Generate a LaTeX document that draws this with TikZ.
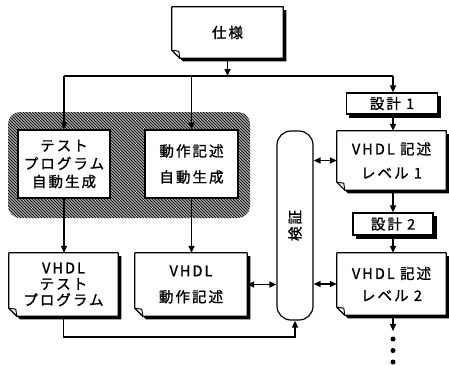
\documentclass[tikz,border=0pt]{standalone}
\usepackage{fontspec}
\setmainfont{Noto Sans CJK JP}[LetterSpace=14, FakeBold=1.2]
\usetikzlibrary{arrows.meta,patterns,backgrounds}

\tikzset{
  every node/.style={inner sep=0pt, font=\fontsize{14.5}{18}\selectfont, align=center},
  tip/.tip={Triangle[length=7pt,width=6pt]},
  wire/.style={line width=1.5pt},
  conn/.style={line width=1.5pt, -tip},
  dconn/.style={line width=1.5pt, tip-tip},
  plainbox/.style={draw, fill=white, line width=1.2pt},
  docbox/.style={},
  ls16/.style={font=\fontsize{14.5}{16}\selectfont},
  ls18/.style={font=\fontsize{14.5}{18}\selectfont},
  ls22/.style={font=\fontsize{14.5}{22}\selectfont},
  ls24/.style={font=\fontsize{14.5}{24}\selectfont},
  ls26/.style={font=\fontsize{14.5}{26}\selectfont},
  shadowshift/.style={transform canvas={shift={(3.2pt,-3.2pt)}}},
}

\newcommand\docbg[1]{%
  \begin{pgfonlayer}{background}
    \begin{scope}[shadowshift]
      \fill[black] (#1.north west) -- (#1.north east)
        -- (#1.south east) -- ([xshift=8pt]#1.south west) -- ([yshift=8pt]#1.south west) -- cycle;
    \end{scope}
    \filldraw[fill=white, line width=1.2pt, line join=round] (#1.north west) -- (#1.north east)
      -- (#1.south east) -- ([xshift=8pt]#1.south west) -- ([yshift=8pt]#1.south west) -- cycle;
    \draw[line width=1pt, line join=round] ([yshift=8pt]#1.south west) -- ([shift={(7pt,7pt)}]#1.south west)
      -- ([xshift=8pt]#1.south west);
  \end{pgfonlayer}}

\newcommand\boxbg[1]{%
  \begin{pgfonlayer}{background}
    \begin{scope}[shadowshift]
      \fill[black] (#1.north west) rectangle (#1.south east);
    \end{scope}
  \end{pgfonlayer}}

\begin{document}
\begin{tikzpicture}[x=1pt,y=-1pt]
\useasboundingbox (0,0) rectangle (449,365);

% hatched group
\begin{pgfonlayer}{background}
  \fill[gray!75, rounded corners=12pt] (8,112) rectangle (250,218);
  \fill[pattern=north west lines, pattern color=black, rounded corners=12pt] (8,112) rectangle (250,218);
\end{pgfonlayer}

% nodes
\node[docbox, minimum width=111pt, minimum height=51pt] (spec) at (227.5,32.5) {仕様};
\docbg{spec}

\node[plainbox, minimum width=91pt, minimum height=21pt] (s1) at (392,103.5) {設計 1};
\boxbg{s1}
\node[plainbox, minimum width=80pt, minimum height=22pt] (s2) at (393,224) {設計 2};
\boxbg{s2}

\node[plainbox, ls18, minimum width=92pt, minimum height=68pt] (genA) at (64,164) {テスト\\プログラム\\自動生成};
\node[plainbox, ls26, minimum width=93pt, minimum height=68pt] (genB) at (191.5,164) {動作記述\\自動生成};

\node[docbox, ls16, minimum width=109pt, minimum height=63pt] (vtest) at (63.5,284.5) {VHDL\\テスト\\プログラム};
\docbg{vtest}
\node[docbox, ls26, minimum width=112pt, minimum height=63pt] (vbeh) at (191,284.5) {VHDL\\動作記述};
\docbg{vbeh}

\node[draw, fill=white, line width=1.2pt, rounded corners=14pt, minimum width=36pt, minimum height=189pt] (verify) at (295,225.5) {};
\node[rotate=90] (verlbl) at (verify.center) {検証};

\node[docbox, ls24, minimum width=109pt, minimum height=59pt] (lv1) at (391.5,160.5) {VHDL 記述\\レベル 1};
\docbg{lv1}
\node[docbox, ls22, minimum width=109pt, minimum height=62pt] (lv2) at (391.5,284) {VHDL 記述\\レベル 2};
\docbg{lv2}

% junction coordinates
\coordinate (jL) at (64,76);
\coordinate (jR) at (393,76);
\coordinate (b1) at (64,337);
\coordinate (b2) at (295,337);
\coordinate (dtop) at (393,331);
\coordinate (d1) at (393,339);
\coordinate (d2) at (393,350.5);
\coordinate (d3) at (393,362);

% connectors
\draw[conn] (spec.south) -- (spec.south |- jL);
\draw[wire] (jL) -- (jR);
\draw[conn] (jL) -- (genA.north);
\draw[conn] (genB.north |- jL) -- (genB.north);
\draw[conn] (jR) -- (jR |- s1.north);
\draw[conn] (jR |- s1.south) -- (jR |- lv1.north);
\draw[conn] (lv1.south -| s2.north) -- (s2.north);
\draw[conn] (s2.south) -- (s2.south |- lv2.north);
\draw[conn] (lv2.south -| s2.south) -- (dtop);
\fill (d1) circle (2.5pt) (d2) circle (2.5pt) (d3) circle (2.5pt);

\draw[conn] (genA.south) -- (genA.south |- vtest.north);
\draw[conn] (genB.south) -- (genB.south |- vbeh.north);

\draw[conn] (vtest.south) -- (vtest.south |- b1) -- (b2) -- (verify.south);
\draw[dconn] (vbeh.east) -- (verify.west |- vbeh.east);
\draw[dconn] (verify.east |- lv2.west) -- (lv2.west);
\draw[dconn] (verify.east |- lv1.west) -- (lv1.west);
\end{tikzpicture}
\end{document}
